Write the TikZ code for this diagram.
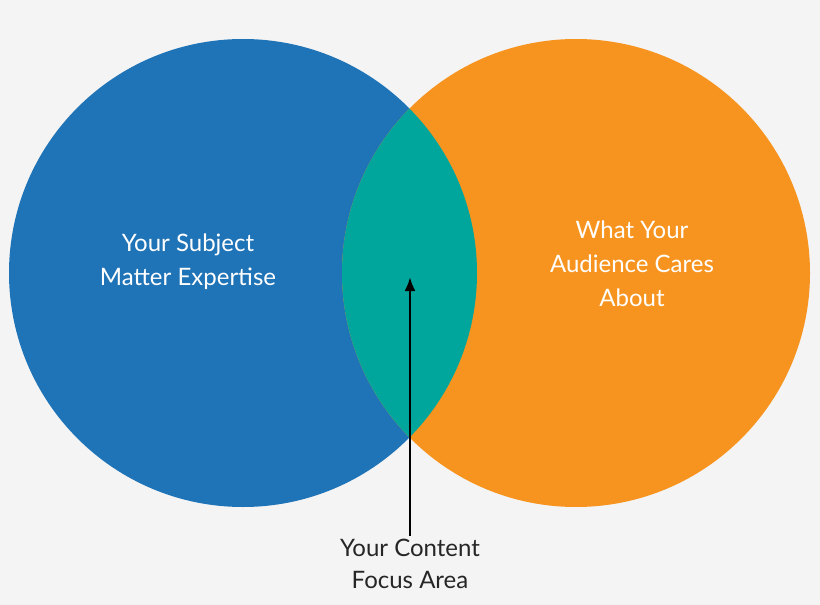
\documentclass[tikz,border=0pt]{standalone}
\usepackage{fontspec}
\usetikzlibrary{arrows.meta}
\setmainfont{Lato}
\definecolor{bg}{HTML}{F4F4F4}
\definecolor{cblue}{HTML}{1F73B7}
\definecolor{corange}{HTML}{F7941F}
\definecolor{cteal}{HTML}{00A69C}
\begin{document}
\begin{tikzpicture}[x=1pt,y=-1pt]
\tikzset{lbl/.style={text=white,align=center,font=\fontsize{24}{34}\selectfont},
 blk/.style={text=black!85,align=center,font=\fontsize{24}{32}\selectfont}}
\fill[bg] (0,0) rectangle (820,605);
\useasboundingbox (0,0) rectangle (820,605);
\fill[cblue] (243,273) circle[radius=234];
\fill[corange] (576,273) circle[radius=234];
\begin{scope}
\clip (243,273) circle[radius=234];
\fill[cteal] (576,273) circle[radius=234];
\end{scope}
\node[lbl] (left) at (188,262) {Your Subject\\Matter Expertise};
\node[lbl] (right) at (632,264) {What Your\\Audience Cares\\About};
\node[blk] (focus) at (410,564) {Your Content\\Focus Area};
\coordinate (tip) at (410,277);
\draw[line width=2.5pt,-{Latex[length=14pt,width=11pt]}] (focus.north) -- (tip);
\end{tikzpicture}
\end{document}
